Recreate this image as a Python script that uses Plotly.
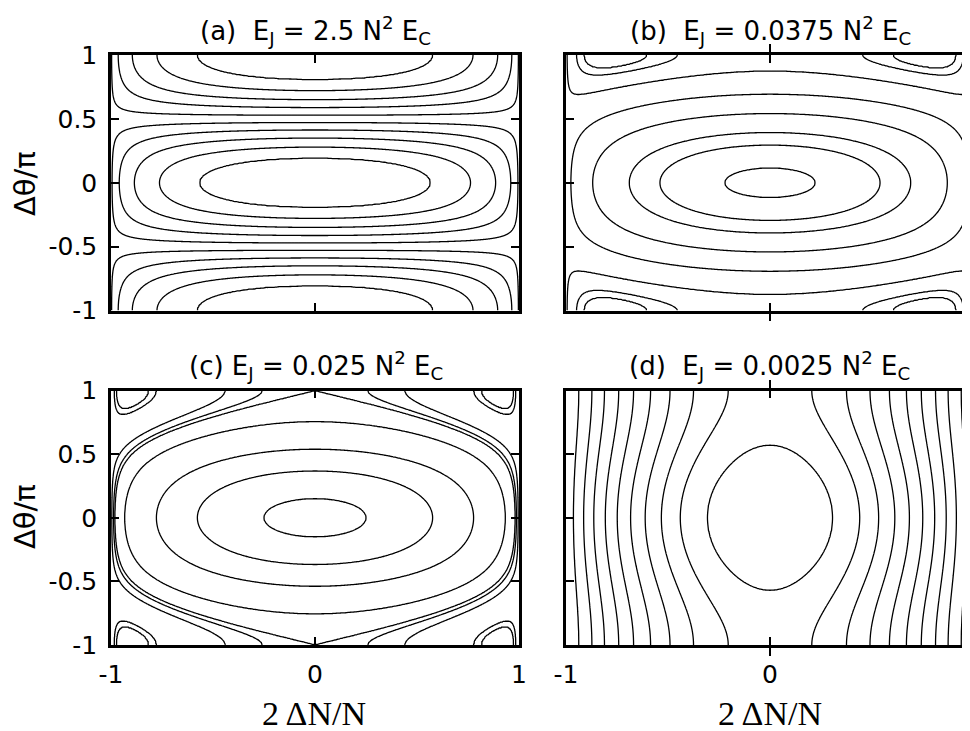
'''
    Phase portraits of a two-mode Josephson junction for four values of E_J.
'''
import numpy as np
import plotly.graph_objects as go

# E_J in units of N^2 E_C, one entry per panel (a)-(d)
EJ_RATIO = [2.5, 0.0375, 0.025, 0.0025]
PANEL_TITLES = [
    '(a)  E<sub>J</sub> = 2.5 N<sup>2</sup> E<sub>C</sub>',
    '(b)  E<sub>J</sub> = 0.0375 N<sup>2</sup> E<sub>C</sub>',
    '(c) E<sub>J</sub> = 0.025 N<sup>2</sup> E<sub>C</sub>',
    '(d)  E<sub>J</sub> = 0.0025 N<sup>2</sup> E<sub>C</sub>',
]

# energy of each drawn orbit, in units of E_J
LEVELS_A = [-0.82, -0.64, -0.455, -0.27, -0.09, 0.09, 0.275, 0.455, 0.64, 0.82]
LEVELS_B = [-0.934, -0.601, -0.332, 0.13, 0.57, 0.924, 1.062, 1.098]
LEVELS_C = [-0.89, -0.405, 0.12, 0.72, 1.0, 1.049, 1.138, 1.38, 1.403]
LEVELS_D = [0.22, 1.5, 2.67, 3.85, 5.06, 6.29, 7.49, 8.75, 9.94, 11.24]
LEVELS = [LEVELS_A, LEVELS_B, LEVELS_C, LEVELS_D]

CHARGING = 0.031   # charging term coefficient (N^2 E_C units)

X_TICKS = [-1, 0, 1]
X_TICKTEXT = ['-1', '0', '1']
Y_TICKS = [-1, -0.5, 0, 0.5, 1]
Y_TICKTEXT = ['-1', '-0.5', '0', '0.5', '1']

WIN_W, WIN_H = 970, 731
OFF = 8                      # page body margin
W, H = WIN_W - OFF, WIN_H - OFF
SANS = 'DejaVu Sans'


def energy(ratio, z, t):
    lam = CHARGING / ratio
    return lam * z ** 2 - np.sqrt(np.clip(1 - z ** 2, 0, None)) * np.cos(np.pi * t)


def level_field(e, levels):
    # monotonic remap so that the wanted levels fall on 0, 1, 2, ...
    knots = [e.min() - 1] + list(levels) + [e.max() + 1]
    idx = list(range(-1, len(levels) + 1))
    return np.round(np.interp(e, knots, idx), 4)


zs = np.sin(np.linspace(-np.pi / 2, np.pi / 2, 401))
ts = np.linspace(-1, 1, 301)
Z, T = np.meshgrid(zs, ts)

fig = go.Figure()
for i, (ratio, levels) in enumerate(zip(EJ_RATIO, LEVELS)):
    suffix = '' if i == 0 else str(i + 1)
    field = level_field(energy(ratio, Z, T), levels)
    fig.add_trace(go.Contour(
        x=zs, y=ts, z=field,
        xaxis='x' + suffix, yaxis='y' + suffix,
        autocontour=False,
        contours=dict(start=0, end=len(levels) - 1, size=1, coloring='none'),
        line=dict(color='black', width=1.3),
        showscale=False, hoverinfo='skip'
    ))


def px_x(p):
    return (p - OFF) / W


def px_y(p):
    return 1 - (p - OFF) / H


left_dom = [px_x(111), px_x(519)]
right_dom = [px_x(566), 1.0]
top_dom = [px_y(310.5), px_y(55)]
bot_dom = [px_y(645), px_y(390.5)]
right_range = [-1, -1 + (WIN_W - 566) / 204.0]

axis_common = dict(
    showline=True, linewidth=2.5, linecolor='black',
    ticks='inside', ticklen=8, tickwidth=2, tickcolor='black',
    showgrid=False, zeroline=False, automargin=False, fixedrange=True,
    tickfont=dict(family=SANS, size=25, color='black'),
)

panels = [
    ('', left_dom, top_dom, False, True),
    ('2', right_dom, top_dom, False, False),
    ('3', left_dom, bot_dom, True, True),
    ('4', right_dom, bot_dom, True, False),
]
layout = {}
for suffix, xd, yd, xlabels, ylabels in panels:
    is_right = xd is right_dom
    layout['xaxis' + suffix] = dict(
        axis_common, domain=xd, anchor='y' + suffix,
        range=right_range if is_right else [-1, 1],
        tickvals=X_TICKS, ticktext=X_TICKTEXT,
        showticklabels=xlabels, ticklabelstandoff=5,
        mirror='allticks',
    )
    layout['yaxis' + suffix] = dict(
        axis_common, domain=yd, anchor='x' + suffix, range=[-1, 1],
        tickvals=Y_TICKS, ticktext=Y_TICKTEXT,
        showticklabels=ylabels, ticklabelstandoff=6,
        mirror=False if is_right else 'allticks',
    )

# inward ticks along the clipped right edge of panels (b) and (d)
for k, (suffix, yd) in enumerate([('2', top_dom), ('4', bot_dom)]):
    layout['yaxis' + str(5 + k)] = dict(
        overlaying='y' + suffix, side='right', anchor='free', position=1.0,
        range=[-1, 1], tickvals=Y_TICKS, showticklabels=False,
        ticks='inside', ticklen=8, tickwidth=2, tickcolor='black',
        showline=False, showgrid=False, zeroline=False, fixedrange=True,
    )
for k, suffix in enumerate(['2', '4']):
    fig.add_trace(go.Scatter(x=[], y=[], xaxis='x' + suffix,
                             yaxis='y' + str(5 + k), showlegend=False))

annotations = []
title_pos = [(315, 30), (770, 30), (316, 365), (769, 365)]
for text, (cx, cy) in zip(PANEL_TITLES, title_pos):
    annotations.append(dict(
        text=text, xref='paper', yref='paper', x=px_x(cx), y=px_y(cy),
        xanchor='center', yanchor='middle', showarrow=False,
        font=dict(family=SANS, size=26, color='black')
    ))
for cy in [184, 517]:
    annotations.append(dict(
        text='Δθ/π', xref='paper', yref='paper', x=px_x(25), y=px_y(cy),
        xanchor='center', yanchor='middle', textangle=-90, showarrow=False,
        font=dict(family=SANS, size=29, color='black')
    ))
for cx in [314, 770]:
    annotations.append(dict(
        text='2 ΔN/N', xref='paper', yref='paper', x=px_x(cx), y=px_y(713),
        xanchor='center', yanchor='middle', showarrow=False, height=34,
        font=dict(family='Liberation Serif', size=34, color='black')
    ))
# tick label "1" of panel (d), half cut by the page edge
annotations.append(dict(
    text='1', xref='paper', yref='paper', x=px_x(974), y=px_y(675),
    xanchor='center', yanchor='middle', showarrow=False,
    font=dict(family=SANS, size=25, color='black')
))

fig.update_layout(
    template='none',
    width=W, height=H,
    margin=dict(l=0, r=0, t=0, b=0),
    paper_bgcolor='white', plot_bgcolor='white',
    showlegend=False, dragmode=False,
    annotations=annotations,
    **layout
)

fig.write_html('out.html', config={'displayModeBar': False})
